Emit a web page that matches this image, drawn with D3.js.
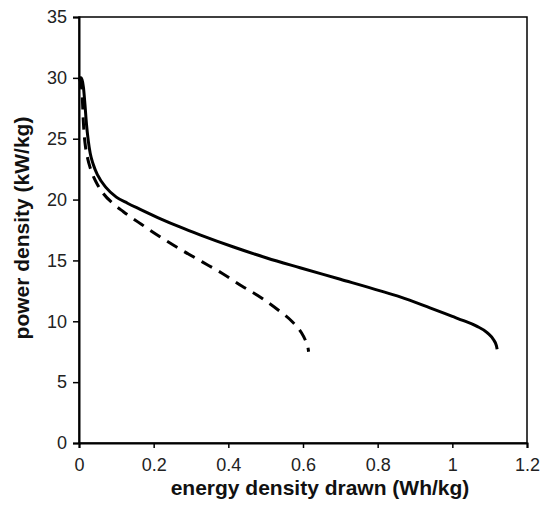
<!DOCTYPE html>
<html>
<head>
<meta charset="utf-8">
<script src="https://cdn.jsdelivr.net/npm/d3@7"></script>
<style>
  body { margin: 0; background: #fff; }
  svg { display: block; font-family: "Liberation Sans", Arial, sans-serif; }
</style>
</head>
<body>
<div id="chart"></div>
<script>
let width = 548,
    height = 507,
    margin = ({ top: 17, right: 21, bottom: 64, left: 79 });

// energy density (Wh/kg), power density (kW/kg)
const solidX = [0, 0.006, 0.012, 0.016, 0.02, 0.025, 0.03, 0.038, 0.05, 0.072, 0.1, 0.13, 0.164, 0.22, 0.27, 0.324, 0.414, 0.503, 0.592, 0.7, 0.807, 0.86, 0.94, 1.0, 1.03, 1.065, 1.094, 1.11, 1.118, 1.12];
const solidY = [30, 30, 29.2, 27.8, 26.2, 24.8, 23.8, 22.9, 22.0, 21.0, 20.2, 19.7, 19.2, 18.4, 17.75, 17.1, 16.1, 15.2, 14.4, 13.45, 12.5, 12.0, 11.1, 10.4, 10.05, 9.6, 9.05, 8.5, 8.0, 7.7];
const dashX = [0, 0.006, 0.009, 0.011, 0.014, 0.018, 0.023, 0.03, 0.04, 0.05, 0.065, 0.09, 0.119, 0.168, 0.222, 0.275, 0.329, 0.383, 0.436, 0.49, 0.539, 0.57, 0.595, 0.607, 0.613, 0.615];
const dashY = [30, 29.4, 28.3, 26.8, 25.3, 24.2, 23.4, 22.6, 21.8, 21.2, 20.5, 19.7, 19.0, 17.95, 16.85, 15.85, 14.9, 13.95, 12.9, 11.9, 10.8, 10.0, 9.1, 8.4, 7.9, 7.5];

const xTicks = [0, 0.2, 0.4, 0.6, 0.8, 1, 1.2];
const yTicks = [0, 5, 10, 15, 20, 25, 30, 35];

const svg = d3.select("#chart")
  .append("svg")
  .attr("width", width)
  .attr("height", height);

let x = d3.scaleLinear()
  .domain([0, 1.2])
  .range([margin.left, width - margin.right]);

let y = d3.scaleLinear()
  .domain([0, 35])
  .range([height - margin.bottom, margin.top]);

// frame
svg.append("rect")
  .attr("x", margin.left)
  .attr("y", margin.top)
  .attr("width", width - margin.left - margin.right)
  .attr("height", height - margin.top - margin.bottom)
  .attr("fill", "none")
  .attr("stroke", "#000")
  .attr("stroke-width", 1.5);

let xAxis = svg.append("g")
  .attr("transform", `translate(0,${height - margin.bottom})`)
  .call(d3.axisBottom(x).tickValues(xTicks).tickSize(5).tickPadding(10).tickFormat(d => d));

let yAxis = svg.append("g")
  .attr("transform", `translate(${margin.left},0)`)
  .call(d3.axisLeft(y).tickValues(yTicks).tickSize(6).tickPadding(6));

for (let g of [xAxis, yAxis]) {
  g.select(".domain").attr("stroke-width", 2);
  g.selectAll(".tick line").attr("stroke-width", 1.5);
  g.selectAll("text")
    .attr("font-size", 18)
    .attr("fill", "#222")
    .attr("font-family", "'Liberation Sans', Arial, sans-serif");
}

let line = d3.line()
  .x(d => x(d[0]))
  .y(d => y(d[1]))
  .curve(d3.curveMonotoneX);

svg.append("path")
  .datum(solidX.map((v, i) => [v, solidY[i]]))
  .attr("fill", "none")
  .attr("stroke", "#000")
  .attr("stroke-width", 3)
  .attr("d", line);

svg.append("path")
  .datum(dashX.map((v, i) => [v, dashY[i]]))
  .attr("fill", "none")
  .attr("stroke", "#000")
  .attr("stroke-width", 3)
  .attr("stroke-dasharray", "12,8")
  .attr("d", line);

svg.append("text")
  .text("energy density drawn (Wh/kg)")
  .attr("x", 320)
  .attr("y", 495)
  .attr("text-anchor", "middle")
  .attr("font-size", 21)
  .attr("font-weight", "bold")
  .attr("fill", "#111");

svg.append("text")
  .text("power density (kW/kg)")
  .attr("transform", `translate(29,228) rotate(-90)`)
  .attr("text-anchor", "middle")
  .attr("font-size", 21)
  .attr("font-weight", "bold")
  .attr("fill", "#111");
</script>
</body>
</html>
